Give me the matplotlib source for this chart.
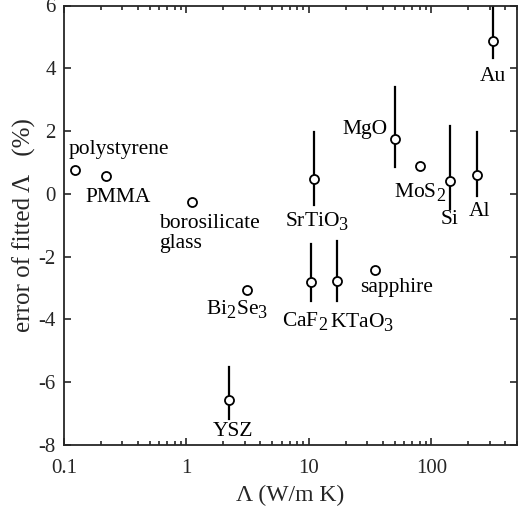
import numpy as np
import matplotlib
matplotlib.use('Agg')
from matplotlib import pyplot as plt
from matplotlib.ticker import LogLocator, FixedLocator, FixedFormatter

# larger, lower subscripts like the original figure
try:
    import matplotlib._mathtext as mt
    mt.SHRINK_FACTOR = 0.85
    mt.FontConstantsBase.sub1 = 0.4
    mt.FontConstantsBase.sub2 = 0.5
except Exception:
    pass

plt.rcParams['font.family'] = ['Liberation Serif', 'DejaVu Serif']
plt.rcParams['mathtext.fontset'] = 'custom'
plt.rcParams['mathtext.rm'] = 'Liberation Serif'
plt.rcParams['mathtext.it'] = 'Liberation Serif:italic'
plt.rcParams['axes.unicode_minus'] = False
plt.rcParams['font.size'] = 15

# materials, thermal conductivity (W/m K) and fit error (%)
names = ['polystyrene', 'PMMA', 'borosilicate\nglass', r'Bi$_2$Se$_3$', 'YSZ',
         r'SrTiO$_3$', r'CaF$_2$', r'KTaO$_3$', 'sapphire', 'MgO',
         r'MoS$_2$', 'Si', 'Al', 'Au']
cond = [0.122, 0.221, 1.11, 3.15, 2.22, 11.1, 10.4, 17.1, 34.7, 50.9, 80.2, 140.6, 235.5, 316]
err = [0.75, 0.56, -0.25, -3.05, -6.58, 0.46, -2.81, -2.76, -2.44, 1.75, 0.88, 0.40, 0.61, 4.86]
# error bar ends (nan = no bar)
err_hi = [np.nan, np.nan, np.nan, np.nan, -5.51, 1.96, -1.61, -1.49, np.nan, 3.39, np.nan, 2.15, 1.97, 6.3]
err_lo = [np.nan, np.nan, np.nan, np.nan, -7.16, -0.36, -3.42, -3.42, np.nan, 0.87, np.nan, -0.47, -0.08, 4.33]

# label offsets from the marker in pixels
lab_dx = [44, 12, -33, -10, 4, 3, -6, 25, 21, -30, 0, 0, 3, 0]
lab_dy = [21, -21, -32, -19, -31, -42, -39, -41, -17, 9, -26, -38, -37, -35]
lab_ha = ['center', 'center', 'left', 'center', 'center', 'center', 'center', 'center',
          'center', 'center', 'center', 'center', 'center', 'center']

fig = plt.figure(figsize=(5.18, 5.12), dpi=100)
ax = fig.add_axes([64/518, 1-445/512, (517-64)/518, (445-5.5)/512])

cond = np.array(cond)
err = np.array(err)
err_hi = np.array(err_hi)
err_lo = np.array(err_lo)

for i in range(len(cond)):
    if not np.isnan(err_hi[i]):
        ax.plot([cond[i], cond[i]], [err_lo[i], err_hi[i]], color='k', lw=1.6, zorder=2)

ax.plot(cond, err, 'o', mfc='white', mec='k', mew=1.3, ms=6.5, ls='none', zorder=3)

for i in range(len(names)):
    ax.annotate(names[i], (cond[i], err[i]), xytext=(lab_dx[i], lab_dy[i]),
                textcoords='offset pixels', ha=lab_ha[i], va='center',
                fontsize=15.5, linespacing=1.05)

axcol = '#262626'
ax.set_xscale('log')
ax.set_xlim(0.1, 500)
ax.set_ylim(-8, 6)
ax.set_yticks(np.arange(-8, 7, 2))
ax.xaxis.set_major_locator(FixedLocator([0.1, 1, 10, 100]))
ax.xaxis.set_major_formatter(FixedFormatter(['0.1', '1', '10', '100']))
ax.xaxis.set_minor_locator(LogLocator(base=10, subs=np.arange(2, 10)))
ax.tick_params(which='both', direction='in', top=True, right=True, width=1.2,
               color=axcol, labelcolor=axcol, labelsize=15)
ax.tick_params(which='major', length=5)
ax.tick_params(which='minor', length=3)
ax.tick_params(axis='x', pad=10)
ax.tick_params(axis='y', pad=6)
for s in ax.spines.values():
    s.set_linewidth(1.3)
    s.set_color(axcol)

ax.set_xlabel('Λ (W/m K)', fontsize=17, labelpad=5, color=axcol)
ax.set_ylabel('error of fitted Λ   (%)', fontsize=18, labelpad=2, color=axcol)

fig.savefig('out.png', dpi=100)
